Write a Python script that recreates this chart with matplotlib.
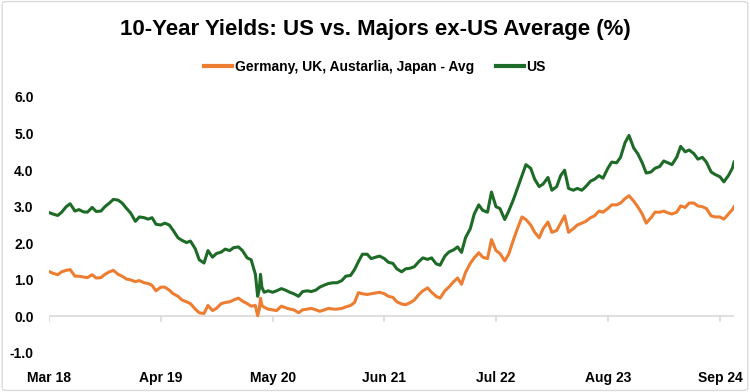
import matplotlib
matplotlib.use('Agg')
from matplotlib import pyplot as plt
from matplotlib.patches import FancyBboxPatch
import pandas as pd
import numpy as np

plt.rcParams['font.family'] = ['Liberation Sans', 'DejaVu Sans']

# semi-monthly readings, 1st and 15th of each month, Mar 2018 .. Oct 2024, plus last day
us = [2.84, 2.80, 2.76, 2.85, 3.00, 3.08, 2.88, 2.92, 2.86, 2.85, 2.98, 2.87, 2.88, 3.00, 3.10, 3.20, 3.18, 3.10, 2.95, 2.83,
      2.60, 2.72, 2.70, 2.66, 2.70, 2.52, 2.50, 2.55, 2.50, 2.35, 2.15, 2.08, 2.02, 2.06, 1.85, 1.55, 1.46, 1.80, 1.62, 1.72, 1.76, 1.84, 1.80, 1.88,
      1.90, 1.80, 1.60, 1.55, 1.15, 0.75, 0.66, 0.70, 0.66, 0.70, 0.76, 0.72, 0.66, 0.62, 0.55, 0.68, 0.70, 0.68, 0.72, 0.80, 0.86, 0.90, 0.92, 0.92,
      0.98, 1.10, 1.12, 1.28, 1.50, 1.70, 1.70, 1.58, 1.62, 1.65, 1.58, 1.48, 1.45, 1.30, 1.22, 1.30, 1.32, 1.36, 1.50, 1.60, 1.56, 1.60, 1.44, 1.40,
      1.65, 1.76, 1.82, 1.90, 1.75, 2.15, 2.40, 2.80, 3.05, 2.90, 2.85, 3.40, 3.00, 2.95, 2.65, 2.88, 3.20, 3.50, 3.85, 4.15, 4.05, 3.75, 3.55, 3.62,
      3.80, 3.45, 3.55, 3.85, 4.00, 3.50, 3.45, 3.50, 3.45, 3.55, 3.70, 3.75, 3.85, 3.78, 4.05, 4.22, 4.20, 4.35, 4.75, 4.95, 4.60, 4.45, 4.20, 3.92,
      3.95, 4.05, 4.10, 4.25, 4.20, 4.15, 4.35, 4.65, 4.50, 4.55, 4.45, 4.30, 4.35, 4.22, 3.95, 3.88, 3.82, 3.68, 3.85, 4.05, 4.22]

avg = [1.23, 1.18, 1.14, 1.22, 1.26, 1.28, 1.10, 1.10, 1.08, 1.06, 1.14, 1.05, 1.06, 1.15, 1.22, 1.26, 1.15, 1.10, 1.02, 1.00,
       0.95, 0.98, 0.92, 0.90, 0.85, 0.70, 0.80, 0.80, 0.72, 0.62, 0.55, 0.45, 0.40, 0.35, 0.20, 0.10, 0.08, 0.30, 0.16, 0.22, 0.35, 0.38, 0.40, 0.45,
       0.50, 0.42, 0.35, 0.28, 0.30, 0.20, 0.25, 0.20, 0.18, 0.16, 0.28, 0.24, 0.20, 0.18, 0.10, 0.18, 0.20, 0.22, 0.18, 0.14, 0.18, 0.22, 0.20, 0.20,
       0.22, 0.26, 0.30, 0.38, 0.65, 0.62, 0.60, 0.62, 0.64, 0.66, 0.62, 0.55, 0.52, 0.40, 0.34, 0.32, 0.38, 0.45, 0.60, 0.70, 0.78, 0.66, 0.55, 0.50,
       0.70, 0.80, 0.95, 1.05, 0.88, 1.20, 1.45, 1.60, 1.74, 1.62, 1.58, 2.10, 1.80, 1.72, 1.52, 1.70, 2.10, 2.40, 2.72, 2.65, 2.50, 2.30, 2.15, 2.40,
       2.58, 2.30, 2.35, 2.55, 2.75, 2.30, 2.40, 2.50, 2.55, 2.60, 2.70, 2.75, 2.88, 2.85, 2.95, 3.05, 3.05, 3.10, 3.22, 3.30, 3.15, 3.00, 2.80, 2.55,
       2.70, 2.85, 2.85, 2.88, 2.83, 2.80, 2.85, 3.02, 2.98, 3.10, 3.10, 3.02, 3.00, 2.95, 2.75, 2.72, 2.72, 2.66, 2.80, 2.92, 3.00]

# covid crash, a few extra days
extra_dates = ['2020-03-09', '2020-03-19', '2020-03-24']
extra_us = [0.55, 1.15, 0.80]
extra_avg = [0.02, 0.50, 0.30]

tick_labels = ['Mar 18', 'Apr 19', 'May 20', 'Jun 21', 'Jul 22', 'Aug 23', 'Sep 24']
tick_dates = pd.to_datetime(['2018-03-01', '2019-04-01', '2020-05-01', '2021-06-01',
                             '2022-07-01', '2023-08-01', '2024-09-01'])

dates = list(pd.date_range('2018-03-01', '2024-10-15', freq='SMS')) + [pd.Timestamp('2024-10-21')]
df = pd.DataFrame({'date': dates, 'us': us, 'avg': avg})
ex = pd.DataFrame({'date': pd.to_datetime(extra_dates), 'us': extra_us, 'avg': extra_avg})
df = pd.concat([df, ex]).sort_values('date')

orange = '#ED7D31'
green = '#1D6B26'

fig = plt.figure(figsize=(7.5, 3.92), dpi=100, facecolor='white')
ax = fig.add_axes([0.0653, 0.0995, 0.9134, 0.6531])

ax.plot(df['date'], df['avg'], color=orange, lw=2.2, label='Germany, UK, Austarlia, Japan - Avg')
ax.plot(df['date'], df['us'], color=green, lw=2.2, label='US')

ax.set_ylim(-1, 6)
ax.set_xlim(pd.Timestamp('2018-03-01'), pd.Timestamp('2024-10-21'))
ax.set_yticks(np.arange(-1, 7, 1))
ax.set_yticklabels(['%.1f' % v for v in np.arange(-1, 7, 1)], fontweight='bold', fontsize=10)
ax.set_xticks(tick_dates)
ax.set_xticklabels(tick_labels, fontweight='bold', fontsize=10)
ax.tick_params(axis='y', length=0, pad=11)
ax.tick_params(axis='x', length=0, pad=13)
for s in ax.spines.values():
    s.set_visible(False)

# zero line with little tick marks
ax.axhline(0, color='#d9d9d9', lw=1.2, zorder=0)
ax.vlines(tick_dates, -0.14, 0, color='#d9d9d9', lw=1.2, zorder=0)

fig.suptitle('10-Year Yields: US vs. Majors ex-US Average (%)', x=0.5, y=0.952,
             fontsize=16, fontweight='bold')
leg = fig.legend(loc='center', bbox_to_anchor=(0.5, 0.83), ncol=2, frameon=False,
                 prop={'weight': 'bold', 'size': 10}, handlelength=2.0, columnspacing=1.6,
                 handletextpad=0.2)
for l in leg.get_lines():
    l.set_linewidth(3)

border = FancyBboxPatch((0.003, 0.004), 0.994, 0.992, boxstyle='round,pad=0,rounding_size=0.006',
                        transform=fig.transFigure, fill=False, edgecolor='#d9d9d9', lw=1)
fig.patches.append(border)

plt.savefig('out.png', dpi=100)
